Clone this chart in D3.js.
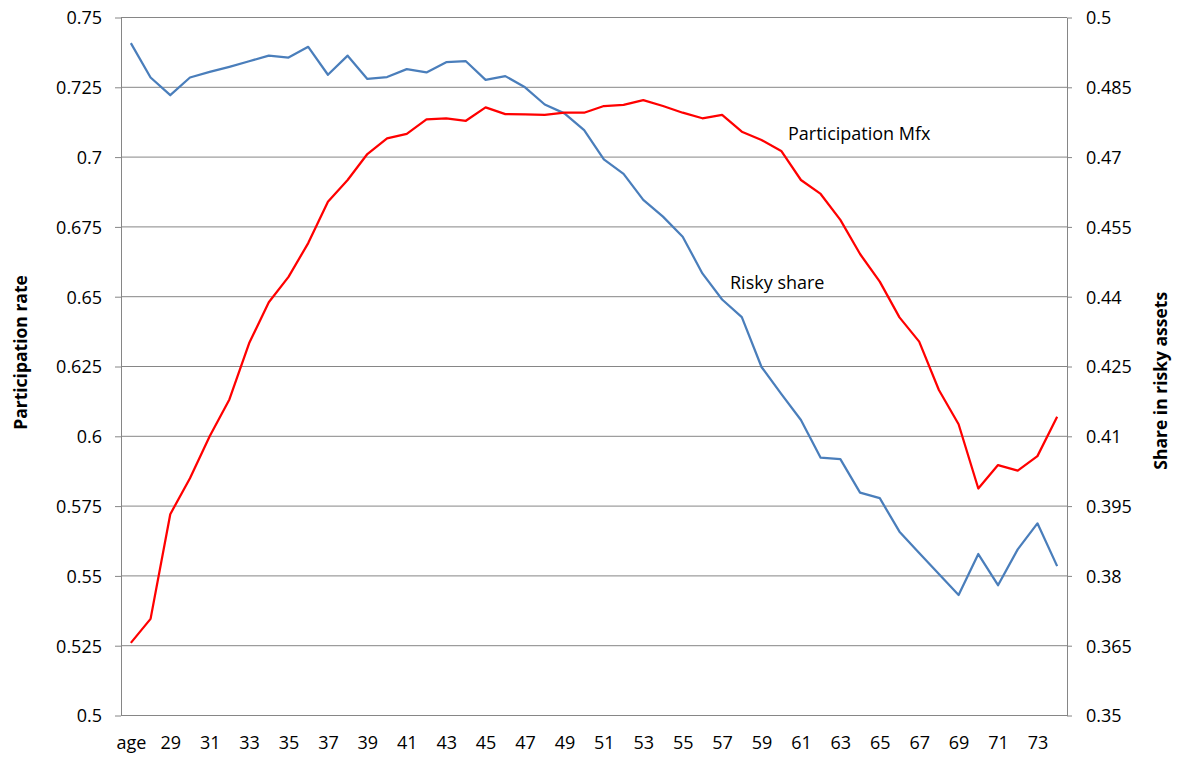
<!DOCTYPE html>
<html>
<head>
<meta charset="utf-8">
<script src="https://cdn.jsdelivr.net/npm/d3@7"></script>
<style>
  body { margin: 0; background: #fff; }
  text { font-family: "Open Sans", "Noto Sans", sans-serif; fill: #000; }
  .axis path, .axis line { stroke: #868686; }
  .grid line { stroke: #868686; stroke-width: 1; }
</style>
</head>
<body>
<div id="chart"></div>
<script>
// Chart size
const width = 1179;
const height = 758;

// Categories (first one is the column header that ended up in the series)
const ages = ["age", "28", "29", "30", "31", "32", "33", "34", "35", "36", "37", "38",
  "39", "40", "41", "42", "43", "44", "45", "46", "47", "48", "49", "50", "51", "52",
  "53", "54", "55", "56", "57", "58", "59", "60", "61", "62", "63", "64", "65", "66",
  "67", "68", "69", "70", "71", "72", "73", "74"];

// Participation Mfx (left axis)
const participation = [0.5260, 0.5346, 0.5721, 0.5850, 0.6000, 0.6132, 0.6333, 0.6480,
  0.6571, 0.6692, 0.6840, 0.6918, 0.7011, 0.7067, 0.7083, 0.7135, 0.7139, 0.7130,
  0.7178, 0.7154, 0.7153, 0.7151, 0.7159, 0.7159, 0.7183, 0.7187, 0.7204, 0.7183,
  0.7159, 0.7139, 0.7151, 0.7091, 0.7061, 0.7022, 0.6918, 0.6868, 0.6775, 0.6653,
  0.6554, 0.6426, 0.6339, 0.6166, 0.6043, 0.5813, 0.5897, 0.5877, 0.5929, 0.6070];

// Risky share (right axis)
const riskyShare = [0.4945, 0.4871, 0.4833, 0.4871, 0.4883, 0.4894, 0.4906, 0.4918,
  0.4914, 0.4937, 0.4877, 0.4918, 0.4868, 0.4872, 0.4889, 0.4882, 0.4904, 0.4906,
  0.4866, 0.4874, 0.4850, 0.4813, 0.4794, 0.4758, 0.4695, 0.4664, 0.4608, 0.4572,
  0.4529, 0.4450, 0.4394, 0.4356, 0.4249, 0.4191, 0.4135, 0.4054, 0.4051, 0.3979,
  0.3967, 0.3895, 0.3849, 0.3804, 0.3759, 0.3847, 0.3780, 0.3857, 0.3913, 0.3821];

// Axis ticks
const leftTicks = [0.5, 0.525, 0.55, 0.575, 0.6, 0.625, 0.65, 0.675, 0.7, 0.725, 0.75];
const leftLabels = ["0.5", "0.525", "0.55", "0.575", "0.6", "0.625", "0.65", "0.675", "0.7", "0.725", "0.75"];
const rightTicks = [0.35, 0.365, 0.38, 0.395, 0.41, 0.425, 0.44, 0.455, 0.47, 0.485, 0.5];
const rightLabels = ["0.35", "0.365", "0.38", "0.395", "0.41", "0.425", "0.44", "0.455", "0.47", "0.485", "0.5"];
const ageLabels = ages.filter((d, i) => i % 2 === 0);

// Plot area
const plot = { left: 121, right: 1067, top: 17.5, bottom: 715.5 };

const x = d3.scalePoint()
  .domain(ages)
  .range([plot.left, plot.right])
  .padding(0.5);

const yLeft = d3.scaleLinear()
  .domain([0.5, 0.75])
  .range([plot.bottom, plot.top]);

const yRight = d3.scaleLinear()
  .domain([0.35, 0.5])
  .range([plot.bottom, plot.top]);

const svg = d3.select("#chart")
  .append("svg")
  .attr("width", width)
  .attr("height", height);

// Horizontal gridlines
svg.append("g")
  .attr("class", "grid")
  .selectAll("line")
  .data(leftTicks)
  .enter().append("line")
  .attr("x1", plot.left)
  .attr("x2", plot.right)
  .attr("y1", d => yLeft(d))
  .attr("y2", d => yLeft(d));

// Left axis
const leftAxis = svg.append("g")
  .attr("class", "axis")
  .attr("transform", `translate(${plot.left},0)`)
  .call(d3.axisLeft(yLeft)
    .tickValues(leftTicks)
    .tickFormat((d, i) => leftLabels[i])
    .tickSize(6)
    .tickSizeOuter(0)
    .tickPadding(13));

// Right axis
const rightAxis = svg.append("g")
  .attr("class", "axis")
  .attr("transform", `translate(${plot.right},0)`)
  .call(d3.axisRight(yRight)
    .tickValues(rightTicks)
    .tickFormat((d, i) => rightLabels[i])
    .tickSize(5)
    .tickSizeOuter(0)
    .tickPadding(14));

// Bottom axis
const bottomAxis = svg.append("g")
  .attr("class", "axis")
  .attr("transform", `translate(0,${plot.bottom})`)
  .call(d3.axisBottom(x)
    .tickValues(ageLabels)
    .tickSize(0)
    .tickSizeOuter(0));

bottomAxis.select(".domain").attr("d", `M${plot.left},0H${plot.right}`);

svg.selectAll(".axis text")
  .style("font-family", '"Open Sans", "Noto Sans", sans-serif')
  .style("font-size", "18px")
  .attr("fill", "#000");

leftAxis.selectAll("text").attr("dy", "0.36em");
rightAxis.selectAll("text").attr("dy", "0.36em");
bottomAxis.selectAll("text").attr("y", 33.8).attr("dy", null);

// Series lines
const lineLeft = d3.line()
  .x((d, i) => x(ages[i]))
  .y(d => yLeft(d));

const lineRight = d3.line()
  .x((d, i) => x(ages[i]))
  .y(d => yRight(d));

svg.append("path")
  .datum(riskyShare)
  .attr("fill", "none")
  .attr("stroke", "#4a7ebb")
  .attr("stroke-width", 2.25)
  .attr("stroke-linejoin", "round")
  .attr("d", lineRight);

svg.append("path")
  .datum(participation)
  .attr("fill", "none")
  .attr("stroke", "#ff0000")
  .attr("stroke-width", 2.25)
  .attr("stroke-linejoin", "round")
  .attr("d", lineLeft);

// Series labels
svg.append("text")
  .attr("x", 788)
  .attr("y", 140)
  .style("font-size", "18px")
  .text("Participation Mfx");

svg.append("text")
  .attr("x", 730)
  .attr("y", 289.3)
  .style("font-size", "18px")
  .text("Risky share");

// Axis titles
svg.append("text")
  .attr("transform", "translate(26.5,352.5) rotate(-90)")
  .attr("text-anchor", "middle")
  .style("font-size", "17.5px")
  .style("font-weight", "bold")
  .text("Participation rate");

svg.append("text")
  .attr("transform", "translate(1167.3,380.8) rotate(-90)")
  .attr("text-anchor", "middle")
  .style("font-size", "17.5px")
  .style("font-weight", "bold")
  .text("Share in risky assets");
</script>
</body>
</html>
